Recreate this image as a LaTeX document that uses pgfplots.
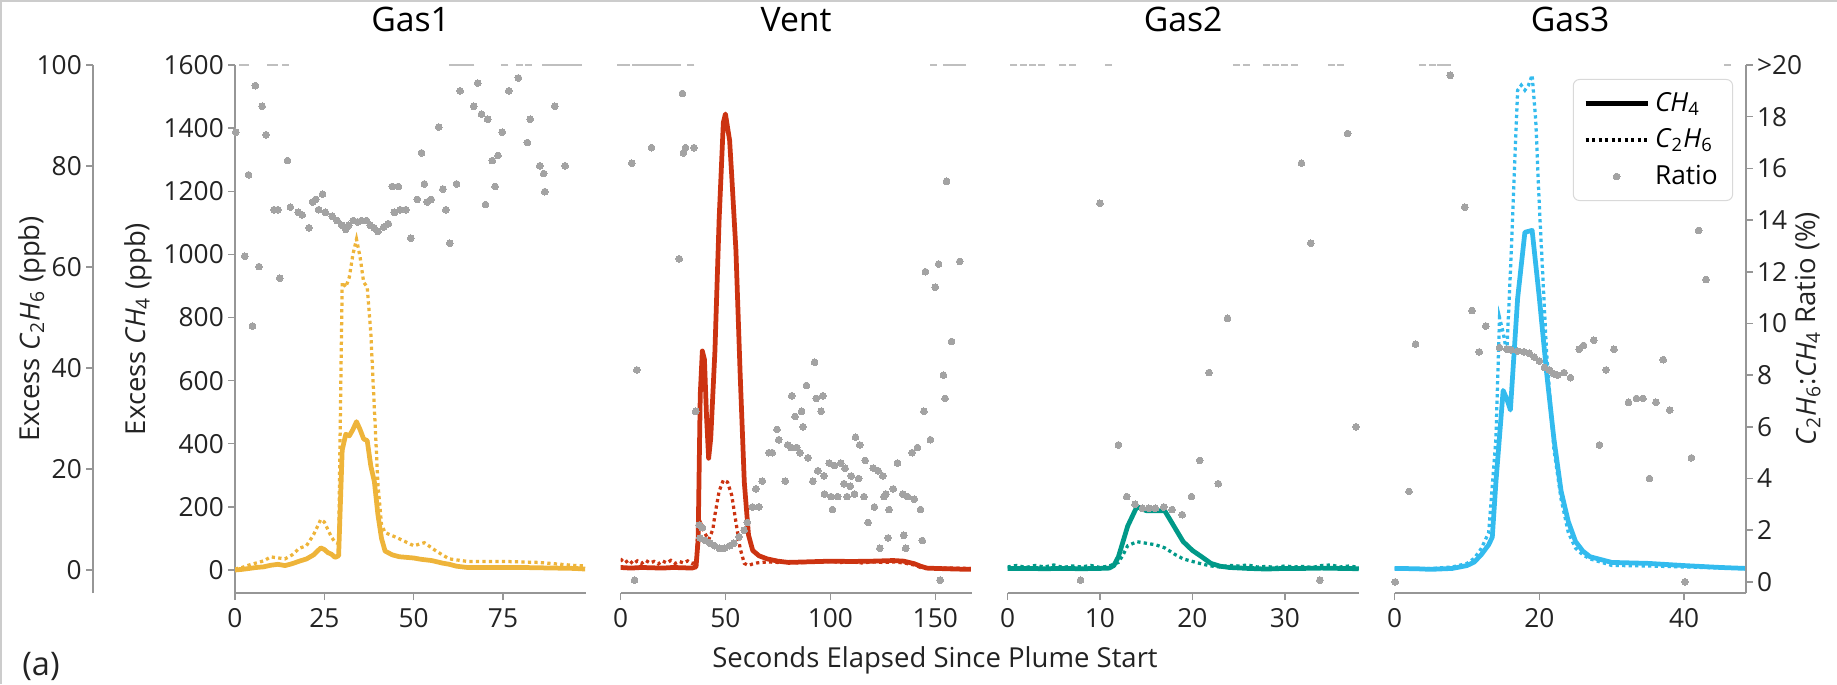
\documentclass[border=0pt]{standalone}
\usepackage{pgfplots}
\pgfplotsset{compat=1.18}
\usepackage{fontspec}
\setmainfont{Open Sans}

\definecolor{gasone}{RGB}{238,180,58}
\definecolor{vent}{RGB}{204,51,17}
\definecolor{gastwo}{RGB}{0,153,136}
\definecolor{gasthree}{RGB}{51,187,238}
\definecolor{ratiogray}{RGB}{163,163,163}
\definecolor{spine}{RGB}{150,150,150}
\definecolor{tickcol}{RGB}{35,35,35}

\newcommand\tickfont{\fontsize{10.5}{12}\selectfont}
\newcommand\labfont{\fontsize{11}{13}\selectfont}
\newcommand\CHf{\textit{CH}\textsubscript{4}}
\newcommand\CCH{\textit{C}\textsubscript{2}\textit{H}\textsubscript{6}}

\pgfplotsset{
  base/.style={scale only axis, width=140.5pt, height=211.2pt, anchor=south west,
    enlargelimits=false, xmin=0,
    axis line style={spine, line width=0.6pt}, tick style={spine, line width=0.6pt},
    major tick length=2.8pt, tick align=outside,
    ticklabel style={font=\tickfont, text=tickcol},
    yticklabel style={inner xsep=1.5pt},
    /pgf/number format/assume math mode=true, /pgf/number format/1000 sep={},
    title style={font=\fontsize{13.5}{15}\selectfont, at={(0.5,1)}, anchor=base, yshift=7.2pt}},
  ch4ax/.style={base, ymin=-72.9, ymax=1600, axis x line*=bottom},
  c2ax/.style={base, ymin=-4.556, ymax=100, hide axis},
  rtax/.style={base, ymin=-0.43, ymax=20, hide axis, clip=false},
  ch4line/.style={line width=1.9pt, line join=round},
  c2line/.style={line width=1.3pt, dash pattern=on 1.3pt off 1.3pt},
  ratiopt/.style={only marks, mark=*, mark size=1.35pt, color=ratiogray,
    mark options={fill=ratiogray, draw=ratiogray, line width=0pt}},
  overpt/.style={only marks, mark=-, mark size=1.4pt, color=ratiogray!70,
    mark options={draw=ratiogray!70, line width=0.6pt}},
}

\begin{document}
\begin{tikzpicture}
\useasboundingbox (0,0) rectangle (734.8pt,273.6pt);
\draw[gray!40, line width=0.8pt] (0.4pt,0pt) -- (0.4pt,273.2pt) -- (734.8pt,273.2pt);

% C2H6 spine at far left
\begin{axis}[base, at={(37.2pt,36.4pt)}, width=1pt, xmax=1, ymin=-4.556, ymax=100,
  axis y line*=left, hide x axis, ytick={0,20,...,100}]
\end{axis}

% ---------- Gas1 ----------
\begin{axis}[ch4ax, at={(94pt,36.4pt)}, xmax=98.3, axis y line*=left,
  xtick={0,25,50,75}, ytick={0,200,...,1600}, title={Gas1}]
\addplot[ch4line, gasone] coordinates {
(0,0) (2,2) (4,5) (6,8) (8,10) (10,15) (12,18) (14,14) (16,20) (18,28) (20,35)
(22,48) (24,70) (25,65) (26,55) (27,50) (28,40) (29,45) (30,380) (31,430) (32,425)
(33,445) (34,470) (35,445) (36,415) (37,410) (38,330) (39,280) (40,175) (41,100)
(42,60) (44,48) (46,42) (48,40) (50,38) (52,34) (55,30) (58,22) (60,18) (62,12)
(65,8) (70,8) (75,8) (80,8) (85,7) (90,6) (95,5) (98,3)};
\end{axis}
\begin{axis}[c2ax, at={(94pt,36.4pt)}, xmax=98.3]
\addplot[c2line, gasone] coordinates {
(0,0.2) (2,0.5) (4,1.0) (6,1.4) (8,1.8) (10,2.6) (12,2.4) (14,2.2) (16,3.0) (18,4.3)
(20,4.8) (22,7) (24,10) (25,9.5) (26,8) (27,6.5) (28,5.5) (29,5.2) (30,57) (31,56)
(32,58) (33,62.5) (34,65.5) (35,62) (36,57) (37,56) (38,47) (39,32) (40,17) (41,9)
(42,7.4) (45,6.5) (48,5.5) (50,4.8) (53,5.4) (56,3.9) (58,3) (60,2.2) (65,1.7)
(70,1.7) (75,1.7) (80,1.6) (85,1.5) (90,1.2) (95,0.9) (98,0.8)};
\end{axis}
\begin{axis}[rtax, at={(94pt,36.4pt)}, xmax=98.3]
\addplot[ratiopt] coordinates {
(0.2,17.4) (2.7,12.6) (3.8,15.75) (4.9,9.9) (5.7,19.2) (6.7,12.2) (7.6,18.4) (8.7,17.3)
(10.9,14.4) (12,14.4) (12.5,11.75) (14.7,16.3) (15.5,14.5) (17.7,14.3) (18.8,14.2)
(20.7,13.7) (21.7,14.7) (22.6,14.8) (23.4,14.4) (24.5,15.0) (25.3,14.3)
(27.2,14.15) (28.6,13.98) (29.9,13.8) (31.0,13.64) (31.8,13.8) (33.1,13.98) (34.3,13.93)
(35.4,13.98) (36.8,13.98) (37.8,13.8) (38.9,13.7) (40.0,13.56) (41.6,13.73) (42.9,13.86)
(44,15.3) (44.6,14.3) (45.7,15.3) (46.2,14.4) (47.8,14.4) (49.2,13.3) (51,14.8)
(52.2,16.6) (53,15.4) (53.8,14.7) (54.9,14.8) (57,17.6) (58.2,15.2) (59,14.4)
(60.1,13.1) (62,15.4) (63,19.0) (66.8,18.4) (67.9,19.3) (69,18.1) (70.1,14.6)
(70.7,17.9) (72,16.3) (72.8,15.3) (73.6,16.5) (74.8,17.4) (76.6,19.0) (79.3,19.5)
(81.8,17.0) (82.6,17.9) (85.3,16.1) (86.4,15.8) (86.7,15.1) (89.5,18.4) (92.4,16.1)};
\addplot[overpt] coordinates {
(2,20) (3,20) (9.8,20) (11,20) (14,20) (61,20) (62.2,20) (63.5,20) (65,20) (66,20)
(75.5,20) (79.5,20) (82,20) (87,20) (88.5,20) (90,20) (91.5,20) (93,20) (94.5,20) (96,20)};
\end{axis}

% ---------- Vent ----------
\begin{axis}[ch4ax, at={(248.2pt,36.4pt)}, xmax=167.4, hide y axis,
  xtick={0,50,100,150}, title={Vent}]
\addplot[ch4line, vent] coordinates {
(0,8) (5,6) (10,8) (15,7) (20,6) (25,8) (30,7) (34,6) (36,10) (37,97) (38,555)
(39,694) (40,667) (41,486) (42,354) (43,417) (45,694) (47,1111) (49,1417) (50,1445)
(52,1361) (53,1250) (55,1014) (57,625) (59,278) (61,111) (63,62) (66,45) (70,35)
(75,28) (80,24) (90,26) (100,28) (110,27) (120,28) (130,30) (135,28) (140,20)
(143,12) (146,6) (150,5) (160,3) (167,2)};
\end{axis}
\begin{axis}[c2ax, at={(248.2pt,36.4pt)}, xmax=167.4]
\addplot[c2line, vent] coordinates {
(0,2.2) (2,1.4) (4,2.0) (6,1.2) (8,1.8) (10,1.3) (12,1.9) (14,1.4) (16,1.7) (18,1.2)
(20,1.8) (22,1.4) (24,1.9) (26,1.3) (28,1.7) (30,1.4) (32,1.8) (34,1.3) (36,1.5)
(37,8.7) (38,9.5) (40,7.4) (42,6) (44,8) (45,10.9) (47,15.6) (49,17.8) (51,17.4)
(53,14.8) (55,9.5) (57,4.3) (59,1.3) (61,0.9) (63,1.2) (65,1.4) (70,1.6) (75,1.5)
(80,1.7) (85,1.4) (90,1.6) (95,1.5) (100,1.7) (105,1.5) (110,1.6) (115,1.4) (120,1.6)
(125,1.5) (130,1.6) (135,1.4) (140,1.0) (143,0.5) (167,0.3)};
\end{axis}
\begin{axis}[rtax, at={(248.2pt,36.4pt)}, xmax=167.4]
\addplot[ratiopt] coordinates {
(5.4,16.2) (6.7,0.07) (7.8,8.2) (14.8,16.8) (28,12.5) (29.5,18.9) (30,16.6) (31,16.8)
(35,16.8) (35.8,6.6) (37.5,2.2) (38,1.7) (39,2.1) (40.4,1.6) (42.5,1.5) (44.8,1.4)
(47.2,1.3) (49.5,1.3) (52,1.4) (54,1.5) (56.5,1.75) (58.9,2.0) (60.4,2.3) (62.9,2.9)
(64.5,3.6) (66,2.9) (67.6,3.9) (70.7,5.0) (72.3,5.0) (74.6,5.9) (75.4,5.5) (78.5,3.9)
(79.7,5.3) (81.3,5.2) (81.6,7.2) (83.2,6.4) (84,5.2) (85.5,5.0) (86.3,6.6) (87,6.0)
(88.6,7.6) (89.4,4.8) (91.7,3.9) (92.5,8.5) (93.3,7.1) (94,4.3) (95.6,6.6) (96.4,7.2)
(97,4.1) (97.2,3.4) (99.5,4.6) (100.3,3.3) (101,2.8) (102,4.5) (103.5,3.3) (105,4.6)
(106.5,3.8) (107,4.4) (108,3.3) (109.5,3.7) (110,4.1) (111.5,3.4) (112,5.6) (113.5,4.0)
(114,5.3) (116,3.3) (116.6,4.7) (118,2.3) (120.5,4.4) (121,2.9) (122.8,4.3) (123.6,1.3)
(125,4.1) (125.5,3.3) (126.5,3.4) (127.5,1.7) (128,2.8) (130,3.6) (132,4.6) (134.5,3.4)
(135,1.8) (135.9,1.3) (136.8,3.3) (139,5.0) (140,3.2) (141.5,5.2) (143,2.8) (143.8,1.6)
(144.6,6.6) (145.3,12.0) (147.7,5.5) (150,11.4) (151.6,12.3) (152.3,0.07) (153.9,8.0)
(154.7,7.1) (155.4,15.5) (157.8,9.3) (161.7,12.4)};
\addplot[overpt] coordinates {
(0,20) (1.5,20) (3,20) (7,20) (8.5,20) (10,20) (11.5,20) (13,20) (14.5,20) (16,20)
(17.5,20) (19,20) (20.5,20) (22,20) (23.5,20) (25,20) (27,20) (33.5,20) (149,20)
(155.5,20) (157,20) (158.5,20) (160,20) (161.5,20) (163,20)};
\end{axis}

% ---------- Gas2 ----------
\begin{axis}[ch4ax, at={(403pt,36.4pt)}, xmax=38, hide y axis,
  xtick={0,10,20,30}, title={Gas2}]
\addplot[ch4line, gastwo] coordinates {
(0,5) (2,5) (4,4) (6,5) (8,4) (10,5) (11,6) (11.5,14) (12,42) (13,139) (14,201)
(15,188) (16,188) (17,188) (18,139) (19,90) (20,62) (21,42) (22,21) (23,12) (24,8)
(26,5) (28,3) (30,5) (32,5) (34,6) (36,5) (38,4)};
\end{axis}
\begin{axis}[c2ax, at={(403pt,36.4pt)}, xmax=38]
\addplot[c2line, gastwo] coordinates {
(0,0.6) (1,0.9) (2,0.5) (3,0.9) (4,0.6) (5,1.0) (6,0.5) (7,0.8) (8,0.6) (9,0.9)
(10,0.5) (11,0.8) (12,1.5) (12.5,3) (13,4.8) (14,5.6) (15,5.3) (16,5.0) (17,4.4)
(18,3.2) (19,2.2) (20,1.7) (21,1.2) (22,0.8) (23,0.6) (24,0.9) (25,0.8) (26,1.0)
(27,0.6) (28,0.7) (29,0.5) (30,0.8) (31,0.6) (32,0.7) (33,0.5) (34,0.9) (35,1.0)
(36,0.6) (37,0.8) (38,0.5)};
\end{axis}
\begin{axis}[rtax, at={(403pt,36.4pt)}, xmax=38]
\addplot[ratiopt] coordinates {
(7.9,0.07) (10,14.65) (12,5.3) (12.9,3.3) (13.8,3.0) (14.6,2.85) (15.3,2.85) (16,2.85)
(16.9,2.9) (17.8,2.8) (18.9,2.6) (19.9,3.3) (20.8,4.7) (21.8,8.1) (22.8,3.8)
(23.8,10.2) (31.8,16.2) (32.8,13.1) (33.8,0.07) (36.8,17.35) (37.7,6.0)};
\addplot[overpt] coordinates {
(0.7,20) (1.7,20) (2.7,20) (3.7,20) (6,20) (7,20) (10.9,20) (24.8,20) (25.8,20)
(28,20) (29,20) (30,20) (31,20) (35,20) (36,20)};
\end{axis}

% ---------- Gas3 ----------
\begin{axis}[ch4ax, at={(557.8pt,36.4pt)}, xmax=48.5, hide y axis,
  xtick={0,20,40}, title={Gas3}]
\addplot[ch4line, gasthree] coordinates {
(0,5) (3,4) (5,2) (8,5) (10,14) (11,25) (12,49) (13,80) (13.5,104) (14,278) (15,569)
(15.5,542) (16,507) (17,861) (18,1070) (19,1076) (20,861) (21,625) (22,417) (23,250)
(24,153) (25,90) (26,60) (27,42) (30,24) (35,21) (40,14) (45,8) (48.5,5)};
\end{axis}
\begin{axis}[c2ax, at={(557.8pt,36.4pt)}, xmax=48.5]
\addplot[c2line, gasthree] coordinates {
(0,0.3) (3,0.2) (5,0.3) (8,0.6) (10,1.3) (11,2.3) (12,4.3) (13,7.4) (14,26) (14.5,50)
(15,47) (15.5,43) (16,59) (17,95) (17.5,96) (18,95) (18.5,96) (19,98) (19.5,89)
(20,72) (21,43) (22,24) (23,14) (24,7.4) (25,4.3) (26,3) (27,2.2) (30,0.9) (35,0.8)
(40,0.6) (45,0.4) (48.5,0.3)};
\end{axis}
\begin{axis}[base, at={(557.8pt,36.4pt)}, xmax=48.5, ymin=-0.43, ymax=20, clip=false,
  hide x axis, axis y line*=right, ytick={0,2,...,20},
  yticklabels={0,2,4,6,8,10,12,14,16,18,>20},
  legend image code/.code={\draw[mark repeat=2, mark phase=2, #1]
    plot coordinates {(0pt,0pt) (12.4pt,0pt) (24.8pt,0pt)};},
  legend style={at={(0.964,0.9735)}, anchor=north east, draw=gray!30,
    rounded corners=2.5pt, fill=white, font=\tickfont, row sep=1.5pt,
    inner xsep=4pt, inner ysep=3pt},
  legend cell align=left]
\addlegendimage{black, line width=1.9pt}
\addlegendentry{\CHf}
\addlegendimage{black, line width=1.3pt, dash pattern=on 1.3pt off 1.3pt}
\addlegendentry{\CCH}
\addlegendimage{only marks, mark=*, mark size=1.35pt, color=ratiogray,
  mark options={fill=ratiogray, draw=ratiogray, line width=0pt}}
\addlegendentry{Ratio}
\addplot[ratiopt, forget plot] coordinates {
(0.1,0) (2,3.5) (2.9,9.2) (7.7,19.6) (9.7,14.5) (10.7,10.5) (11.7,8.9) (12.6,9.9)
(14.5,9.07) (15.5,9.0) (16.1,8.98) (17,8.93) (17.9,8.9) (18.6,8.85) (19.3,8.7) (20,8.55)
(20.7,8.3) (21.4,8.2) (22,8.05) (22.5,8.0) (23.4,8.1) (24.3,7.9) (25.5,9.0) (26.1,9.15)
(27.5,9.35) (28.3,5.3) (29.2,8.2) (30.3,9.0) (32.3,6.95) (33.4,7.1) (34.3,7.1) (35.2,4.0)
(36.1,6.95) (37.1,8.6) (38,6.65) (40.1,0) (41,4.8) (42,13.6) (43,11.7)};
\addplot[overpt, forget plot] coordinates {
(3.8,20) (5.3,20) (6.4,20) (7.3,20) (46,20)};
\end{axis}

% labels
\node[rotate=90, font=\labfont, text=tickcol] at (13pt,142pt) {Excess \CCH{} (ppb)};
\node[rotate=90, font=\labfont, text=tickcol] at (55.2pt,142pt) {Excess \CHf{} (ppb)};
\node[rotate=90, font=\labfont, text=tickcol] at (723.2pt,142pt) {\CCH:\CHf{} Ratio (\%)};
\node[font=\labfont, text=tickcol] at (374pt,9.6pt) {Seconds Elapsed Since Plume Start};
\node[font=\fontsize{13}{15}\selectfont, text=tickcol] at (16.4pt,7.2pt) {(a)};
\end{tikzpicture}
\end{document}
